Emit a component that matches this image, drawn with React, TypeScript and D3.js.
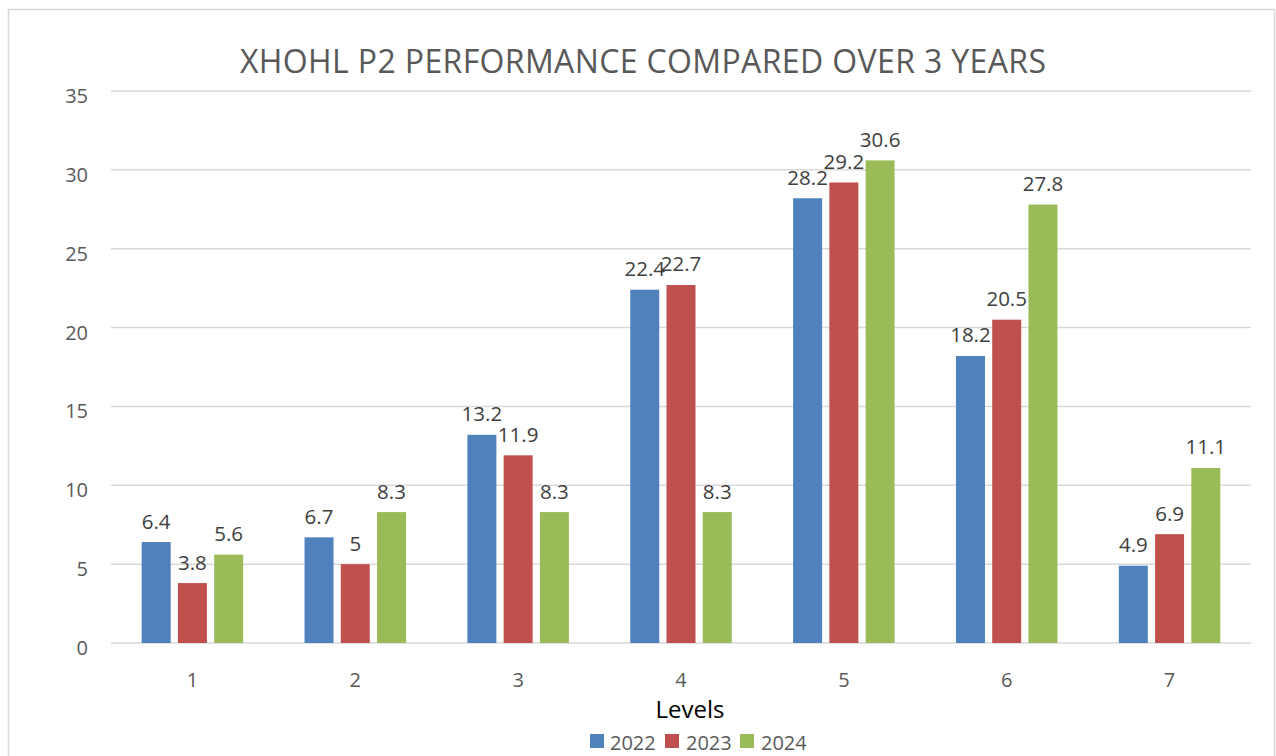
import React from "react";
import * as d3 from "d3";

const categories = ["1", "2", "3", "4", "5", "6", "7"];
const seriesNames = ["2022", "2023", "2024"];
const values2022 = [6.4, 6.7, 13.2, 22.4, 28.2, 18.2, 4.9];
const values2023 = [3.8, 5, 11.9, 22.7, 29.2, 20.5, 6.9];
const values2024 = [5.6, 8.3, 8.3, 8.3, 30.6, 27.8, 11.1];
const yTicks = [0, 5, 10, 15, 20, 25, 30, 35];
const colors = ["#4F81BD", "#C0504D", "#9BBB59"];
const title = "XHOHL P2 PERFORMANCE COMPARED OVER 3 YEARS";
const xTitle = "Levels";

const FONT = "'Open Sans', 'Noto Sans', sans-serif";

export default function App() {
  const W = 1276;
  const H = 756;
  const left = 111;
  const right = 1251;
  const top = 91;
  const bottom = 643;

  const x = d3.scaleBand<string>().domain(categories).range([left, right]).padding(0);
  const y = d3.scaleLinear().domain([0, 35]).range([bottom, top]);
  const series = [values2022, values2023, values2024];
  const groupW = 101.5;

  const legendItems = [
    { sq: 590, tx: 610 },
    { sq: 665, tx: 686 },
    { sq: 740, tx: 761 },
  ];

  return (
    <svg
      width={W}
      height={H}
      style={{ position: "absolute", left: 0, top: 0, background: "#fff" }}
      fontFamily={FONT}
    >
      <rect x={0} y={0} width={W} height={H} fill="#fff" />
      <rect x={8.5} y={9.5} width={1266} height={780} fill="#fff" stroke="#d9d9d9" strokeWidth={1.5} />
      <text x={643} y={73} textAnchor="middle" fontSize={32} fill="#595959" textLength={806} lengthAdjust="spacing">
        {title}
      </text>
      {yTicks.map((t) => (
        <g key={t}>
          <line x1={left} x2={right} y1={y(t)} y2={y(t)} stroke="#d9d9d9" strokeWidth={1.5} />
          <text x={88} y={y(t) + 12} textAnchor="end" fontSize={20} fill="#595959">
            {t}
          </text>
        </g>
      ))}
      {categories.map((c, i) => {
        const cx = (x(c) as number) + x.bandwidth() / 2;
        const inner = d3
          .scaleBand<string>()
          .domain(seriesNames)
          .range([cx - groupW / 2, cx + groupW / 2])
          .paddingInner(0.2);
        return (
          <g key={c}>
            {series.map((vals, s) => {
              const bx = inner(seriesNames[s]) as number;
              const bw = inner.bandwidth();
              const by = y(vals[i]);
              return (
                <g key={s}>
                  <rect x={bx} y={by} width={bw} height={bottom - by} fill={colors[s]} />
                  <text x={bx + bw / 2} y={by - 13.5} textAnchor="middle" fontSize={20.5} fill="#404040">
                    {vals[i]}
                  </text>
                </g>
              );
            })}
            <text x={cx} y={687} textAnchor="middle" fontSize={20} fill="#595959">
              {c}
            </text>
          </g>
        );
      })}
      <text x={690} y={718} textAnchor="middle" fontSize={24} fill="#000">
        {xTitle}
      </text>
      {seriesNames.map((n, i) => (
        <g key={n}>
          <rect x={legendItems[i].sq} y={734} width={14} height={14} fill={colors[i]} />
          <text x={legendItems[i].tx} y={750} fontSize={20} fill="#595959">
            {n}
          </text>
        </g>
      ))}
    </svg>
  );
}
